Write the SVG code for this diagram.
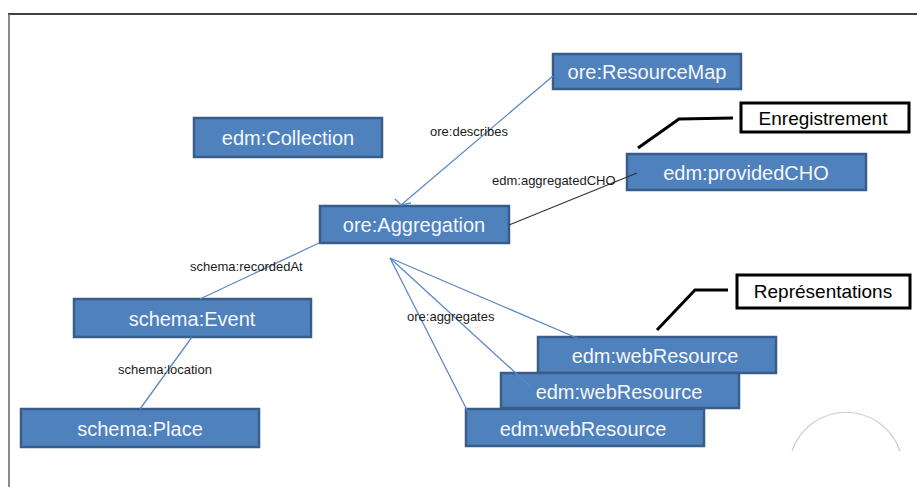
<svg xmlns="http://www.w3.org/2000/svg" width="917" height="487" viewBox="0 0 917 487">
<style>
.node rect{fill:#4F81BD;stroke:#385D8A;stroke-width:2.5}
.node text{fill:#F4F7FB;font-family:"Liberation Sans",Arial,sans-serif;font-size:20px;text-anchor:middle}
.note rect{fill:#fff;stroke:#000;stroke-width:3}
.note text{fill:#000;font-family:"Liberation Sans",Arial,sans-serif;font-size:19px;text-anchor:middle}
.lbl{fill:#1a1a1a;font-family:"Liberation Sans",Arial,sans-serif;font-size:13px}
.blue{stroke:#5B89C6;stroke-width:1.3;fill:none}
.dark{stroke:#333;stroke-width:1.2;fill:none}
.lead{stroke:#000;stroke-width:3;fill:none}
</style>
<rect x="0" y="0" width="917" height="487" fill="#fff"/>
<line x1="8" y1="14" x2="917" y2="14" stroke="#000" stroke-width="1.5"/>
<line x1="9" y1="14" x2="9" y2="487" stroke="#666" stroke-width="1.5"/>
<path d="M792,451 A57,57 0 0 1 900,451" fill="none" stroke="#ccc" stroke-width="1.2"/>

<g id="n-resourcemap" class="node"><rect x="553" y="54" width="188" height="35"/><text x="647" y="79">ore:ResourceMap</text></g>
<g id="n-collection" class="node"><rect x="194" y="118" width="188" height="39"/><text x="288" y="145">edm:Collection</text></g>
<g id="n-aggregation" class="node"><rect x="320" y="206" width="189" height="37"/><text x="414" y="232">ore:Aggregation</text></g>
<g id="n-providedcho" class="node"><rect x="627" y="154" width="239" height="36"/><text x="746" y="180">edm:providedCHO</text></g>
<g id="n-event" class="node"><rect x="74" y="299" width="237" height="38"/><text x="192" y="326">schema:Event</text></g>
<g id="n-place" class="node"><rect x="21" y="409" width="238" height="38"/><text x="140" y="436">schema:Place</text></g>
<g id="n-web1" class="node"><rect x="538" y="337" width="238" height="36"/><text x="655" y="363">edm:webResource</text></g>
<g id="n-web2" class="node"><rect x="501" y="373" width="238" height="35"/><text x="619" y="399">edm:webResource</text></g>
<g id="n-web3" class="node"><rect x="466" y="409" width="238" height="37"/><text x="583" y="436">edm:webResource</text></g>

<g id="note-enregistrement" class="note"><rect x="741" y="103" width="168" height="29"/><text x="823" y="125">Enregistrement</text></g>
<g id="note-representations" class="note"><rect x="737" y="275" width="173" height="33"/><text x="823" y="298">Représentations</text></g>

<g id="connectors">
<line class="blue" x1="553" y1="76" x2="401" y2="205"/>
<polyline class="blue" points="395,199 401,205 411,203"/>
<line class="dark" x1="509" y1="225" x2="637" y2="173"/>
<line class="blue" x1="319" y1="243" x2="200" y2="299"/>
<line class="blue" x1="192" y1="337" x2="140" y2="409"/>
<line class="blue" x1="390" y1="258" x2="577" y2="338"/>
<line class="blue" x1="390" y1="258" x2="531" y2="387"/>
<line class="blue" x1="390" y1="258" x2="468" y2="412"/>
<polyline class="lead" points="638,148 679,119 733,118"/>
<polyline class="lead" points="657,330 695,290 728,290"/>
<text class="lbl" x="430" y="136">ore:describes</text>
<text class="lbl" x="492" y="185">edm:aggregatedCHO</text>
<text class="lbl" x="190" y="271">schema:recordedAt</text>
<text class="lbl" x="118" y="374">schema:location</text>
<text class="lbl" x="407" y="321">ore:aggregates</text>
</g>
</svg>
